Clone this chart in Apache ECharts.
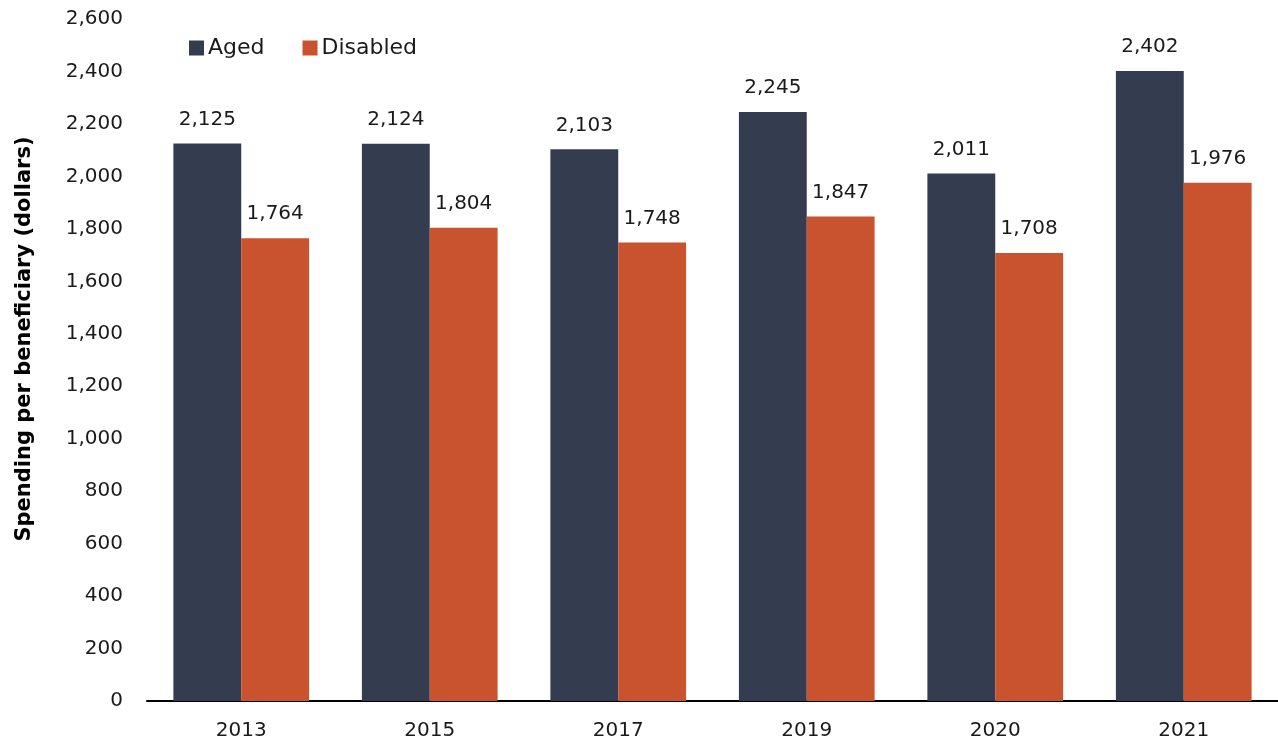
<!DOCTYPE html>
<html lang="en">
<head>
    <meta charset="UTF-8">
    <title>Spending per beneficiary</title>
    <script src="https://cdn.jsdelivr.net/npm/echarts@6.0.0/dist/echarts.min.js"></script>
    <style>
        html, body { margin: 0; padding: 0; background: #fff; }
        #chart { width: 1278px; height: 744px; }
    </style>
</head>
<body>
    <div id="chart"></div>
    <script>
        // data
        const years = ['2013', '2015', '2017', '2019', '2020', '2021'];
        const aged = [2125, 2124, 2103, 2245, 2011, 2402];
        const disabled = [1764, 1804, 1748, 1847, 1708, 1976];

        const font = 'DejaVu Sans';
        const chart = echarts.init(document.getElementById('chart'));

        const label = {
            show: true,
            position: 'top',
            distance: 14,
            color: '#1a1a1a',
            fontFamily: font,
            fontSize: 20,
            formatter: p => p.value.toLocaleString('en-US')
        };

        chart.setOption({
            animation: false,
            textStyle: { fontFamily: font },
            legend: {
                left: 184,
                top: 32,
                itemWidth: 15,
                itemHeight: 15,
                itemGap: 38,
                icon: 'rect',
                textStyle: { fontSize: 22, color: '#1a1a1a', fontFamily: font, padding: [0, 0, 0, -1] },
                data: ['Aged', 'Disabled']
            },
            grid: { left: 147, right: 0, top: 19, bottom: 43, outerBoundsMode: 'none' },
            xAxis: {
                type: 'category',
                data: years,
                axisLine: { lineStyle: { color: '#000', width: 2 } },
                axisTick: { show: false },
                axisLabel: { fontSize: 20, color: '#1a1a1a', margin: 20, fontFamily: font }
            },
            yAxis: {
                type: 'value',
                min: 0,
                max: 2600,
                interval: 200,
                name: 'Spending per beneficiary (dollars)',
                nameLocation: 'middle',
                nameGap: 112,
                nameTextStyle: {
                    fontSize: 21, fontWeight: 'bold', color: '#000', fontFamily: font,
                    padding: [0, 0, 0, 42]
                },
                splitLine: { show: false },
                axisLine: { show: false },
                axisTick: { show: false },
                axisLabel: {
                    fontSize: 20, color: '#1a1a1a', margin: 24, fontFamily: font,
                    formatter: v => v.toLocaleString('en-US')
                }
            },
            series: [
                {
                    name: 'Aged',
                    type: 'bar',
                    data: aged,
                    barGap: '0%',
                    barCategoryGap: '28%',
                    itemStyle: { color: '#333d4f' },
                    label: label
                },
                {
                    name: 'Disabled',
                    type: 'bar',
                    data: disabled,
                    itemStyle: { color: '#c9532e' },
                    label: label
                }
            ]
        });
    </script>
</body>
</html>
